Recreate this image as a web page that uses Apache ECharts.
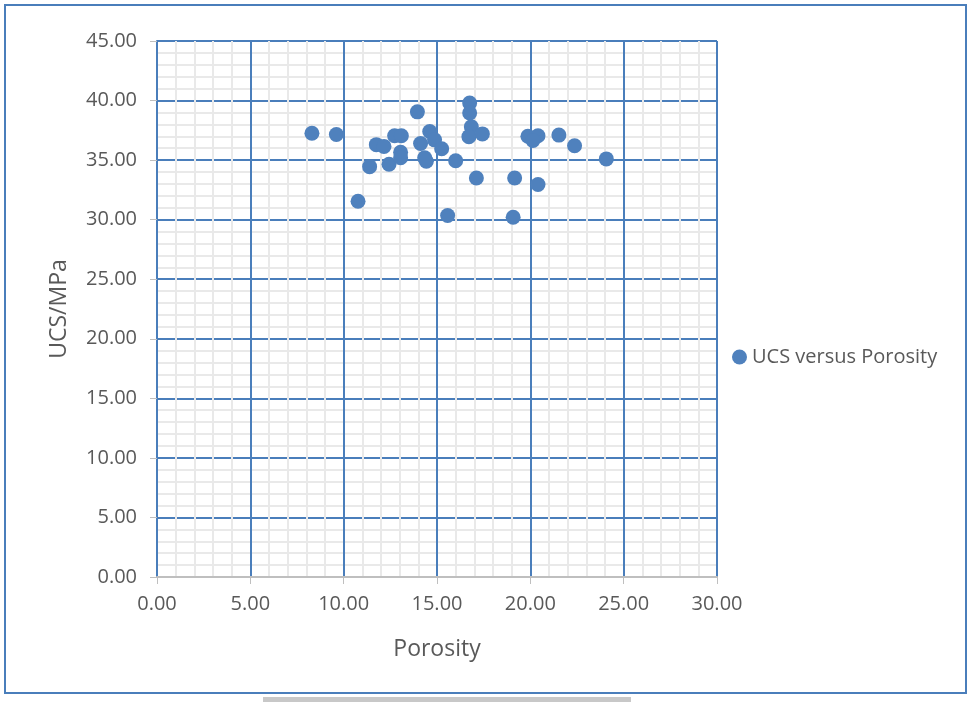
<!DOCTYPE html>
<html>
<head>
<meta charset="utf-8">
<script src="https://cdn.jsdelivr.net/npm/echarts@6/dist/echarts.min.js"></script>
<style>
  html, body { margin: 0; padding: 0; background: #ffffff; }
  #chart { width: 969px; height: 702px; }
</style>
</head>
<body>
<div id="chart"></div>
<script>
// Porosity (%) of each sample
const porosity = [
  8.30, 9.61, 10.77, 11.39, 11.75, 12.16, 12.43, 12.73, 13.09, 13.05,
  13.05, 13.95, 14.12, 14.61, 14.87, 14.34, 14.43, 15.25, 16.00, 15.57,
  16.75, 16.75, 16.84, 16.71, 17.43, 17.11, 19.16, 20.41, 19.08, 19.87,
  20.41, 20.14, 21.53, 22.37, 24.07
];
// Uniaxial compressive strength (MPa) of each sample
const ucs = [
  37.25, 37.15, 31.55, 34.45, 36.30, 36.15, 34.65, 37.05, 37.05, 35.65,
  35.20, 39.05, 36.40, 37.40, 36.70, 35.20, 34.90, 35.95, 34.95, 30.35,
  39.80, 38.95, 37.80, 36.97, 37.20, 33.50, 33.50, 32.95, 30.20, 37.00,
  37.05, 36.65, 37.10, 36.20, 35.10
];
const seriesName = 'UCS versus Porosity';
const xTitle = 'Porosity';
const yTitle = 'UCS/MPa';

const points = porosity.map((p, i) => [p, ucs[i]]);

const FONT = '"Open Sans", "Liberation Sans", sans-serif';
const TEXT = '#595959';
const BLUE = '#4a7ebb';
const MINOR = '#e9e9e9';

const chart = echarts.init(document.getElementById('chart'), null, { renderer: 'canvas' });
chart.setOption({
  backgroundColor: '#ffffff',
  animation: false,
  textStyle: { fontFamily: FONT },
  grid: { left: 157, right: 252, top: 41, bottom: 125, containLabel: false },
  legend: {
    left: 727, top: 342,
    itemWidth: 15, itemHeight: 15, icon: 'circle',
    textStyle: { color: TEXT, fontSize: 20, fontFamily: FONT },
    data: [seriesName]
  },
  xAxis: {
    type: 'value', min: 0, max: 30, interval: 5,
    name: xTitle, nameLocation: 'middle', nameGap: 61,
    nameTextStyle: { color: TEXT, fontSize: 23, fontFamily: FONT },
    axisLine: { show: true, onZero: false, lineStyle: { color: '#bfbfbf', width: 2 } },
    axisTick: { show: true, length: 7, lineStyle: { color: '#bfbfbf', width: 1 } },
    axisLabel: { color: TEXT, fontSize: 20, margin: 17, formatter: v => v.toFixed(2) },
    splitLine: { show: true, lineStyle: { color: BLUE, width: 2 } },
    minorTick: { show: false, splitNumber: 5 },
    minorSplitLine: { show: true, lineStyle: { color: MINOR, width: 2 } }
  },
  yAxis: {
    type: 'value', min: 0, max: 45, interval: 5,
    name: yTitle, nameLocation: 'middle', nameGap: 86, nameRotate: 90,
    nameTextStyle: { color: TEXT, fontSize: 23, fontFamily: FONT },
    axisLine: { show: true, onZero: false, lineStyle: { color: BLUE, width: 2 } },
    axisTick: { show: true, length: 7, lineStyle: { color: '#bfbfbf', width: 1 } },
    axisLabel: { color: TEXT, fontSize: 20, margin: 20, formatter: v => v.toFixed(2) },
    splitLine: { show: true, lineStyle: { color: BLUE, width: 2 } },
    minorTick: { show: false, splitNumber: 5 },
    minorSplitLine: { show: true, lineStyle: { color: MINOR, width: 2 } }
  },
  series: [{
    name: seriesName,
    type: 'scatter',
    symbol: 'circle',
    symbolSize: 15,
    itemStyle: { color: '#4f81bd', opacity: 1 },
    data: points,
    z: 5
  }],
  graphic: [
    {
      type: 'rect', silent: true, z: -1,
      shape: { x: 5, y: 5, width: 961, height: 688 },
      style: { fill: 'none', stroke: BLUE, lineWidth: 2 }
    },
    {
      type: 'rect', silent: true,
      shape: { x: 263, y: 697, width: 368, height: 5 },
      style: { fill: '#c8c8c8' }
    }
  ]
});
</script>
</body>
</html>
